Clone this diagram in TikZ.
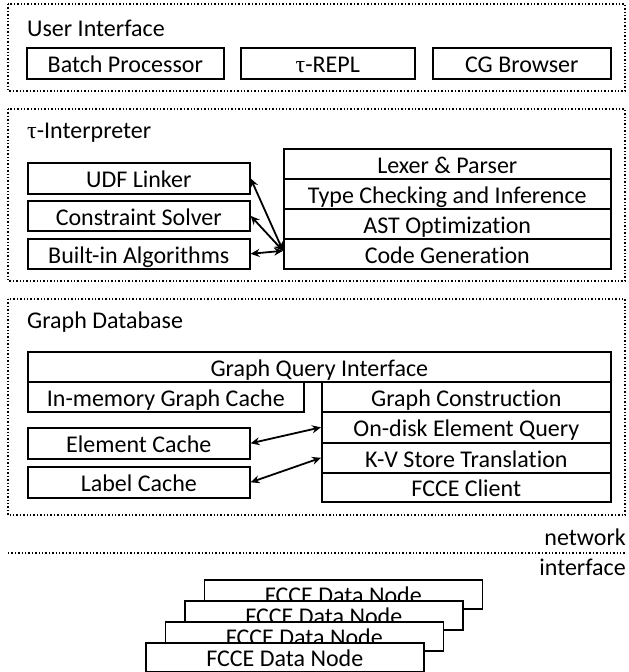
\documentclass[tikz,border=0pt]{standalone}
\usepackage{fontspec}
\setmainfont[Ligatures=NoCommon]{Carlito}
\newfontfamily\taufont{Liberation Serif}
\usetikzlibrary{arrows.meta}

\newcommand{\tauch}{{\taufont τ}}
\tikzset{
  layer/.style={draw, dotted, line width=1.4pt},
  blk/.style={draw, line width=1.6pt, inner sep=0pt, anchor=north west,
    minimum height=30pt, text height=20pt, text depth=1.5pt,
    font=\fontsize{24}{28}\selectfont},
  ttl/.style={anchor=base west, inner sep=0pt, font=\fontsize{24}{28}\selectfont},
  link/.style={{Stealth[length=9pt,width=8pt,inset=3pt]}-{Stealth[length=9pt,width=8pt,inset=3pt]}, line width=1.8pt}
}

\begin{document}
\begin{tikzpicture}[x=1pt,y=-1pt]
 \useasboundingbox (0,0) rectangle (629,672);
 % user interface
 \draw[layer] (8,4) rectangle (625,91);
 \node[ttl] (uititle) at (27,36) {User Interface};
 \node[blk, minimum width=197pt, minimum height=31pt] (batch) at (26,47) {Batch Processor};
 \node[blk, minimum width=174pt, minimum height=31pt] (repl) at (240,47) {\tauch-REPL};
 \node[blk, minimum width=178pt, minimum height=31pt] (browser) at (432,47) {CG Browser};
 % interpreter
 \draw[layer] (8,109) rectangle (625,281);
 \node[ttl] (interptitle) at (27,138) {\tauch-Interpreter};
 \node[blk, minimum width=327pt] (lexer) at (283,148) {Lexer \& Parser};
 \node[blk, minimum width=327pt] (typeck) at (283,178) {Type Checking and Inference};
 \node[blk, minimum width=327pt] (astopt) at (283,208) {AST Optimization};
 \node[blk, minimum width=327pt] (codegen) at (283,238) {Code Generation};
 \node[blk, minimum width=222pt, minimum height=31pt] (udf) at (27,162) {UDF Linker};
 \node[blk, minimum width=222pt] (solver) at (27,200) {Constraint Solver};
 \node[blk, minimum width=222pt] (builtin) at (27,238) {Built-in Algorithms};
 \draw[link] (udf.east) -- ([yshift=3pt]codegen.west);
 \draw[link] (solver.east) -- ([yshift=3pt]codegen.west);
 \draw[link] (builtin.east) -- ([yshift=3pt]codegen.west);
 % graph database
 \draw[layer] (8,299) rectangle (625,515);
 \node[ttl] (dbtitle) at (27,328) {Graph Database};
 \node[blk, minimum width=583pt] (gqi) at (27,351) {Graph Query Interface};
 \node[blk, minimum width=276pt] (memcache) at (27,381) {In-memory Graph Cache};
 \node[blk, minimum width=289pt] (gcons) at (321,381) {Graph Construction};
 \node[blk, minimum width=289pt, minimum height=31pt] (ondisk) at (321,411) {On-disk Element Query};
 \node[blk, minimum width=289pt] (kvstore) at (321,442) {K-V Store Translation};
 \node[blk, minimum width=289pt, minimum height=29pt] (fcceclient) at (321,472) {FCCE Client};
 \node[blk, minimum width=222pt, minimum height=31pt] (elemcache) at (27,427) {Element Cache};
 \node[blk, minimum width=222pt, minimum height=31pt] (labelcache) at (27,466) {Label Cache};
 \draw[link] (elemcache.east) -- (ondisk.west);
 \draw[link] (labelcache.east) -- (kvstore.west);
 % network interface
 \coordinate (netL) at (8,553);
 \coordinate (netR) at (625,553);
 \draw[layer] (netL) -- (netR);
 \node[anchor=base east, inner sep=0pt, font=\fontsize{24}{28}\selectfont] (nettop) at (626,545) {network};
 \node[anchor=base east, inner sep=0pt, font=\fontsize{24}{28}\selectfont] (netbot) at (626,575) {interface};
 % data nodes
 \foreach \i in {3,2,1,0}
   \node[blk, fill=white, minimum width=278pt, minimum height=29pt] (dnode\i) at (145+19.5*\i,642-21*\i) {FCCE Data Node};
\end{tikzpicture}
\end{document}
